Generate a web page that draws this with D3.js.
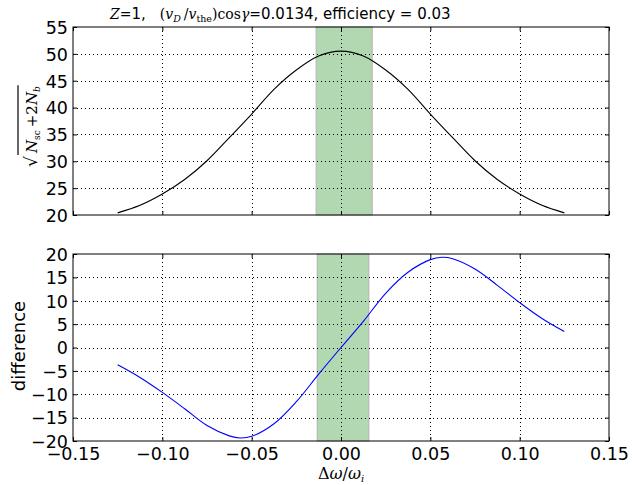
<!DOCTYPE html>
<html><head><meta charset="utf-8">
<script src="https://cdn.jsdelivr.net/npm/d3@7"></script>
<style>body{margin:0;background:#fff}svg{display:block}</style>
</head><body>
<script>
// ---- data ----
const xTickValues = [-0.15, -0.10, -0.05, 0.00, 0.05, 0.10, 0.15];
const topYTicks = [20, 25, 30, 35, 40, 45, 50, 55];
const bottomYTicks = [-20, -15, -10, -5, 0, 5, 10, 15, 20];

const topX = [-0.125, -0.1125, -0.1, -0.0875, -0.075, -0.0625, -0.05, -0.0375, -0.025, -0.0125, 0,
              0.0125, 0.025, 0.0375, 0.05, 0.0625, 0.075, 0.0875, 0.1, 0.1125, 0.125];
const topY = [20.4, 21.8, 23.9, 26.6, 30.1, 34.4, 38.8, 43.4, 47.0, 49.6, 50.5,
              49.6, 47.0, 43.4, 38.8, 34.4, 30.1, 26.6, 23.9, 21.8, 20.4];

const botX = [-0.125, -0.1125, -0.1, -0.0875, -0.075, -0.0625, -0.0565, -0.05, -0.0375, -0.025, -0.0125, 0,
              0.0125, 0.025, 0.0375, 0.05, 0.0565, 0.0625, 0.075, 0.0875, 0.1, 0.1125, 0.125];
const botY = [-3.7, -6.4, -9.6, -13.1, -16.7, -18.9, -19.35, -19.0, -16.3, -11.6, -5.7, 0,
              5.6, 11.6, 16.1, 18.8, 19.3, 19.0, 16.8, 13.3, 9.6, 6.2, 3.4];

const topBand = [-0.0142, 0.0172];
const botBand = [-0.0136, 0.0153];

// ---- layout ----
const W = 632, H = 485;
const L = 73, R = 609;
const sans = "'DejaVu Sans', 'Bitstream Vera Sans', sans-serif";
const serif = "'DejaVu Serif', serif";
const fs = 17.5;

const svg = d3.select("body").append("svg").attr("width", W).attr("height", H)
  .style("font-family", sans);

const x = d3.scaleLinear().domain([-0.15, 0.15]).range([L, R]);
const fmtX = d => d3.format(".2f")(d).replace("-", "\u2212");
const fmtY = d => String(d).replace("-", "\u2212");

function panel(top, bottom, yDomain, yTicks, xs, ys, color, band) {
  const y = d3.scaleLinear().domain(yDomain).range([bottom, top]);
  const g = svg.append("g");
  g.append("rect")
    .attr("x", x(band[0]) + 0.5).attr("y", top)
    .attr("width", x(band[1]) - x(band[0])).attr("height", bottom - top)
    .attr("fill", "#b2d8b2").attr("stroke", "#b3b3b3").attr("stroke-width", 1);
  const inner = xTickValues.slice(1, -1);
  g.selectAll(".gx").data(inner).enter().append("line")
    .attr("x1", d => Math.round(x(d)) + 0.5).attr("x2", d => Math.round(x(d)) + 0.5)
    .attr("y1", top).attr("y2", bottom)
    .attr("stroke", "#000").attr("stroke-width", 1).attr("stroke-dasharray", "1,3");
  g.selectAll(".gy").data(yTicks.slice(1, -1)).enter().append("line")
    .attr("y1", d => Math.round(y(d)) + 0.5).attr("y2", d => Math.round(y(d)) + 0.5)
    .attr("x1", L).attr("x2", R)
    .attr("stroke", "#000").attr("stroke-width", 1).attr("stroke-dasharray", "1,3");
  const line = d3.line().x((d, i) => x(xs[i])).y(d => y(d)).curve(d3.curveCatmullRom.alpha(0.5));
  g.append("path").datum(ys).attr("d", line).attr("fill", "none")
    .attr("stroke", color).attr("stroke-width", 1.1);
  const tl = 4;
  const axB = d3.axisBottom(x).tickValues(xTickValues).tickSizeInner(-tl).tickSizeOuter(0).tickFormat(fmtX);
  const axT = d3.axisTop(x).tickValues(xTickValues).tickSizeInner(-tl).tickSizeOuter(0).tickFormat("");
  const axL = d3.axisLeft(y).tickValues(yTicks).tickSizeInner(-tl).tickSizeOuter(0).tickFormat(fmtY);
  const axR = d3.axisRight(y).tickValues(yTicks).tickSizeInner(-tl).tickSizeOuter(0).tickFormat("");
  const gb = g.append("g").attr("transform", `translate(0,${bottom})`).call(axB);
  const gt = g.append("g").attr("transform", `translate(0,${top})`).call(axT);
  const gl = g.append("g").attr("transform", `translate(${L},0)`).call(axL);
  const gr = g.append("g").attr("transform", `translate(${R},0)`).call(axR);
  [gb, gt, gl, gr].forEach(a => {
    a.select(".domain").remove();
    a.selectAll("line").attr("stroke", "#000");
    a.selectAll("text").attr("font-family", sans).attr("font-size", fs).attr("fill", "#000");
  });
  gb.selectAll("text").attr("dy", "0").attr("y", 19);
  gl.selectAll("text").attr("x", -5).attr("dy", "0.36em");
  g.append("rect").attr("x", L).attr("y", top).attr("width", R - L).attr("height", bottom - top)
    .attr("fill", "none").attr("stroke", "#000").attr("stroke-width", 1);
  return {g, gb};
}

const p1 = panel(27, 215, [20, 55], topYTicks, topX, topY, "#000000", topBand);
p1.gb.selectAll("text").remove();
const p2 = panel(254, 441, [-20, 20], bottomYTicks, botX, botY, "#0000ff", botBand);

// ---- title ----
const mfs = 14, sfs = 9.5;
const title = svg.append("text").attr("x", 110).attr("y", 19).attr("text-anchor", "start")
  .attr("font-size", 15).attr("font-family", sans);
title.append("tspan").attr("font-family", serif).attr("font-size", mfs).attr("font-style", "italic").text("Z");
title.append("tspan").attr("font-family", serif).attr("font-size", mfs).text("=");
title.append("tspan").text("1,");
title.append("tspan").attr("font-family", serif).attr("font-size", mfs).attr("dx", 14).text("(");
title.append("tspan").attr("font-family", serif).attr("font-size", mfs).attr("font-style", "italic").text("v");
title.append("tspan").attr("font-family", serif).attr("font-style", "italic").attr("font-size", sfs).attr("dy", 3).text("D");
title.append("tspan").attr("font-family", serif).attr("font-size", mfs).attr("dy", -3).attr("dx", 3).text("/");
title.append("tspan").attr("font-family", serif).attr("font-size", mfs).attr("font-style", "italic").text("v");
title.append("tspan").attr("font-family", serif).attr("font-size", sfs).attr("dy", 3).text("the");
title.append("tspan").attr("font-family", serif).attr("font-size", mfs).attr("dy", -3).text(")cos");
title.append("tspan").attr("font-family", serif).attr("font-size", mfs).attr("font-style", "italic").text("\u03b3");
title.append("tspan").attr("font-family", serif).attr("font-size", mfs).text("=");
title.append("tspan").text("0.0134,  efficiency = 0.03");

// ---- y labels ----
const ylg = svg.append("g").attr("transform", "translate(37,167) rotate(-90)");
ylg.append("text").attr("x", 0).attr("y", 0).attr("font-family", serif).attr("font-size", 17)
  .text("\u221a");
const body = ylg.append("text").attr("x", 14).attr("y", 0).attr("font-family", serif).attr("font-size", 15);
body.append("tspan").attr("font-style", "italic").text("N");
body.append("tspan").attr("font-size", 9).attr("dy", 3).text("sc");
body.append("tspan").attr("dy", -3).text("\u2009+2");
body.append("tspan").attr("font-style", "italic").text("N");
body.append("tspan").attr("font-style", "italic").attr("font-size", 9).attr("dy", 3).text("b");
const bodyLen = body.node().getComputedTextLength();
ylg.append("line").attr("x1", 12).attr("x2", 14 + bodyLen + 1).attr("y1", -19).attr("y2", -19)
  .attr("stroke", "#000").attr("stroke-width", 1.2);

svg.append("text").attr("transform", "translate(25,346) rotate(-90)")
  .attr("text-anchor", "middle").attr("font-size", 18).attr("font-family", sans).text("difference");

// ---- x label ----
const xl = svg.append("text").attr("x", 341).attr("y", 479).attr("text-anchor", "middle")
  .attr("font-family", serif).attr("font-size", 16);
xl.append("tspan").text("\u0394");
xl.append("tspan").attr("font-style", "italic").text("\u03c9");
xl.append("tspan").text("/");
xl.append("tspan").attr("font-style", "italic").text("\u03c9");
xl.append("tspan").attr("font-style", "italic").attr("font-size", 10).attr("dy", 3).text("i");
</script>
</body></html>
